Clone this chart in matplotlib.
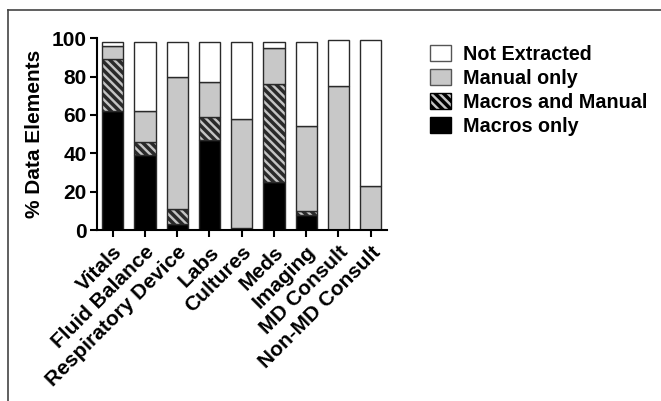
import numpy as np
import matplotlib.pyplot as plt
from matplotlib.lines import Line2D
from matplotlib.patches import Patch

plt.rcParams['font.family'] = ['Liberation Sans', 'DejaVu Sans']
plt.rcParams['font.weight'] = 'bold'
plt.rcParams['hatch.linewidth'] = 2.5

categories = ["Vitals", "Fluid Balance", "Respiratory Device", "Labs", "Cultures",
              "Meds", "Imaging", "MD Consult", "Non-MD Consult"]

# stacked values, % of data elements
macros_only = [62, 39, 3, 47, 1, 25, 8, 0, 0]
macros_and_manual = [27, 7, 8, 12, 0, 51, 2, 0, 0]
manual_only = [7, 16, 69, 18, 57, 19, 44, 75, 23]
not_extracted = [2, 36, 18, 21, 40, 3, 44, 24, 76]

fig = plt.figure(figsize=(6.61, 4.01), dpi=100)
ax = fig.add_axes([0.1463, 0.4264, 0.4387, 0.4781])

x = np.arange(len(categories))
w = 0.66
ec = '#2a2a2a'
b1 = np.array(macros_only)
b2 = b1 + np.array(macros_and_manual)
b3 = b2 + np.array(manual_only)

ax.bar(x, macros_only, w, color='black', edgecolor=ec, linewidth=1)
ax.bar(x, macros_and_manual, w, bottom=b1, color='#c4c4c4', edgecolor=ec,
       linewidth=1, hatch='\\\\\\\\')
ax.bar(x, manual_only, w, bottom=b2, color='#c8c8c8', edgecolor=ec, linewidth=1)
ax.bar(x, not_extracted, w, bottom=b3, color='white', edgecolor=ec, linewidth=1)

ax.set_xlim(-0.5, 8.5)
ax.set_ylim(0, 100)
ax.set_yticks([0, 20, 40, 60, 80, 100])
ax.set_xticks(x)
ax.set_xticklabels(categories, rotation=45, ha='right', rotation_mode='anchor',
                   fontsize=15, fontweight='bold')
ax.tick_params(axis='y', labelsize=15, width=1.5, length=5, pad=2)
ax.tick_params(axis='x', width=1.5, length=5, pad=4)
ax.set_ylabel('% Data Elements', fontsize=15, fontweight='bold', labelpad=6)
for s in ['top', 'right']:
    ax.spines[s].set_visible(False)
for s in ['left', 'bottom']:
    ax.spines[s].set_linewidth(1.5)

handles = [
    Patch(facecolor='white', edgecolor='#555555', label='Not Extracted'),
    Patch(facecolor='#c8c8c8', edgecolor='#555555', label='Manual only'),
    Patch(facecolor='#c4c4c4', edgecolor='black', hatch='\\\\\\\\', label='Macros and Manual'),
    Patch(facecolor='black', edgecolor='black', label='Macros only'),
]
fig.legend(handles=handles, loc='upper left', bbox_to_anchor=(0.639, 0.908),
           frameon=False, fontsize=14.2, handlelength=1.05, handleheight=0.9,
           handletextpad=0.6, labelspacing=0.25, borderaxespad=0)

# figure frame (top and left edges)
fig.add_artist(Line2D([0.0128, 1.0], [0.975, 0.975], color='#444444', lw=1.2))
fig.add_artist(Line2D([0.0128, 0.0128], [0.0, 0.975], color='#444444', lw=1.2))

fig.savefig('out.png', dpi=100)
